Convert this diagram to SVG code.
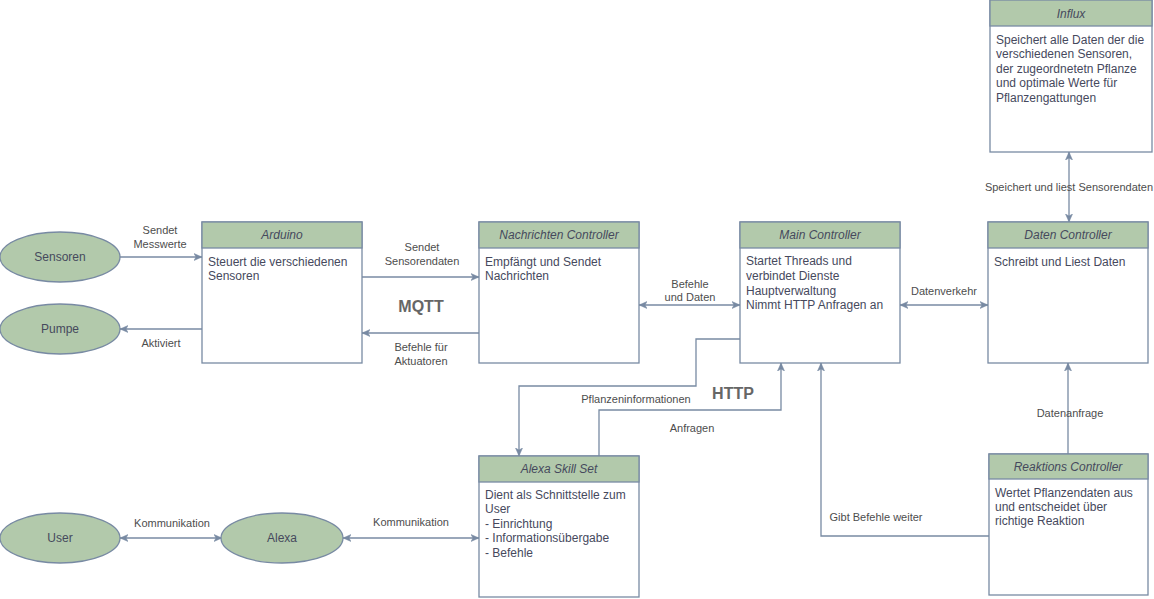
<svg xmlns="http://www.w3.org/2000/svg" width="1154" height="599" viewBox="0 0 1154 599">
<style>
.box{fill:#ffffff;stroke:#788AA3;stroke-width:1.3}
.hdr{fill:#B2C9AB;stroke:#788AA3;stroke-width:1.3}
.ell{fill:#B2C9AB;stroke:#788AA3;stroke-width:1.3}
.ttl{font-family:"Liberation Sans",Arial,sans-serif;font-size:12px;font-style:italic;fill:#46495D;text-anchor:middle}
.txt{font-family:"Liberation Sans",Arial,sans-serif;font-size:12px;fill:#46495D}
.etxt{font-family:"Liberation Sans",Arial,sans-serif;font-size:12px;fill:#46495D;text-anchor:middle}
.lbl{font-family:"Liberation Sans",Arial,sans-serif;font-size:11px;fill:#4D4D4D;text-anchor:middle}
.big{font-family:"Liberation Sans",Arial,sans-serif;font-size:16px;font-weight:bold;fill:#666666;text-anchor:middle}
.edge{fill:none;stroke:#788AA3;stroke-width:1.3}
</style>
<defs>
<marker id="arr" markerUnits="userSpaceOnUse" markerWidth="10" markerHeight="10" refX="8" refY="3.5" orient="auto-start-reverse" viewBox="0 0 10 7">
<path d="M0,0 L8,3.5 L0,7 L2,3.5 Z" fill="#788AA3" stroke="#788AA3" stroke-width="0.5"/>
</marker>
</defs>

<g id="connectors">
<path class="edge" d="M120,257 L202,257" marker-end="url(#arr)"/>
<path class="edge" d="M202,329 L120,329" marker-end="url(#arr)"/>
<path class="edge" d="M362,277 L479,277" marker-end="url(#arr)"/>
<path class="edge" d="M479,333 L362,333" marker-end="url(#arr)"/>
<path class="edge" d="M639,305 L740,305" marker-start="url(#arr)" marker-end="url(#arr)"/>
<path class="edge" d="M900,305 L988,305" marker-start="url(#arr)" marker-end="url(#arr)"/>
<path class="edge" d="M1069,152 L1069,222" marker-start="url(#arr)" marker-end="url(#arr)"/>
<path class="edge" d="M740,339 L696,339 L696,386 L519,386 L519,456" marker-end="url(#arr)"/>
<path class="edge" d="M599,456 L599,410 L781,410 L781,363" marker-end="url(#arr)"/>
<path class="edge" d="M1068,454 L1068,363" marker-end="url(#arr)"/>
<path class="edge" d="M989,536 L821,536 L821,363" marker-end="url(#arr)"/>
<path class="edge" d="M120,538 L222,538" marker-start="url(#arr)" marker-end="url(#arr)"/>
<path class="edge" d="M343,538 L479,538" marker-start="url(#arr)" marker-end="url(#arr)"/>

<text class="lbl" x="160" y="234">Sendet</text>
<text class="lbl" x="160" y="248">Messwerte</text>
<text class="lbl" x="161" y="347">Aktiviert</text>
<text class="lbl" x="422" y="251">Sendet</text>
<text class="lbl" x="422" y="265">Sensorendaten</text>
<text class="big" x="421" y="312">MQTT</text>
<text class="lbl" x="421" y="351">Befehle für</text>
<text class="lbl" x="421" y="365">Aktuatoren</text>
<text class="lbl" x="690" y="288">Befehle</text>
<text class="lbl" x="690" y="301">und Daten</text>
<text class="lbl" x="944" y="295">Datenverkehr</text>
<text class="lbl" x="1069" y="191">Speichert und liest Sensorendaten</text>
<text class="lbl" x="636" y="403">Pflanzeninformationen</text>
<text class="big" x="733" y="399">HTTP</text>
<text class="lbl" x="692" y="432">Anfragen</text>
<text class="lbl" x="1070" y="417">Datenanfrage</text>
<text class="lbl" x="876" y="521">Gibt Befehle weiter</text>
<text class="lbl" x="172" y="527">Kommunikation</text>
<text class="lbl" x="411" y="526">Kommunikation</text>
</g>

<g id="sensoren">
<ellipse class="ell" cx="60" cy="257" rx="60" ry="25"/>
<text class="etxt" x="60" y="261">Sensoren</text>
</g>
<g id="pumpe">
<ellipse class="ell" cx="60" cy="329" rx="60" ry="25"/>
<text class="etxt" x="60" y="333">Pumpe</text>
</g>
<g id="user">
<ellipse class="ell" cx="60" cy="538" rx="60" ry="25"/>
<text class="etxt" x="60" y="542">User</text>
</g>
<g id="alexa">
<ellipse class="ell" cx="282" cy="538" rx="61" ry="25"/>
<text class="etxt" x="282" y="542">Alexa</text>
</g>

<g id="arduino">
<rect class="box" x="202" y="222" width="160" height="141"/>
<rect class="hdr" x="202" y="222" width="160" height="26"/>
<text class="ttl" x="282" y="239">Arduino</text>
<text class="txt" x="208" y="266">Steuert die verschiedenen</text>
<text class="txt" x="208" y="280">Sensoren</text>
</g>

<g id="nachrichten">
<rect class="box" x="479" y="222" width="160" height="141"/>
<rect class="hdr" x="479" y="222" width="160" height="26"/>
<text class="ttl" x="559" y="239">Nachrichten Controller</text>
<text class="txt" x="485" y="266">Empfängt und Sendet</text>
<text class="txt" x="485" y="280">Nachrichten</text>
</g>

<g id="main">
<rect class="box" x="740" y="222" width="160" height="141"/>
<rect class="hdr" x="740" y="222" width="160" height="26"/>
<text class="ttl" x="820" y="239">Main Controller</text>
<text class="txt" x="746" y="265">Startet Threads und</text>
<text class="txt" x="746" y="280">verbindet Dienste</text>
<text class="txt" x="746" y="295">Hauptverwaltung</text>
<text class="txt" x="746" y="309">Nimmt HTTP Anfragen an</text>
</g>

<g id="daten">
<rect class="box" x="988" y="222" width="160" height="141"/>
<rect class="hdr" x="988" y="222" width="160" height="26"/>
<text class="ttl" x="1068" y="239">Daten Controller</text>
<text class="txt" x="994" y="266">Schreibt und Liest Daten</text>
</g>

<g id="influx">
<rect class="box" x="990" y="0" width="162" height="152"/>
<rect class="hdr" x="990" y="0" width="162" height="26"/>
<text class="ttl" x="1071" y="18">Influx</text>
<text class="txt" x="996" y="44">Speichert alle Daten der die</text>
<text class="txt" x="996" y="58">verschiedenen Sensoren,</text>
<text class="txt" x="996" y="73">der zugeordnetetn Pflanze</text>
<text class="txt" x="996" y="87">und optimale Werte für</text>
<text class="txt" x="996" y="102">Pflanzengattungen</text>
</g>

<g id="alexaskill">
<rect class="box" x="479" y="456" width="160" height="141"/>
<rect class="hdr" x="479" y="456" width="160" height="26"/>
<text class="ttl" x="559" y="473">Alexa Skill Set</text>
<text class="txt" x="485" y="499">Dient als Schnittstelle zum</text>
<text class="txt" x="485" y="513">User</text>
<text class="txt" x="485" y="528">- Einrichtung</text>
<text class="txt" x="485" y="542">- Informationsübergabe</text>
<text class="txt" x="485" y="557">- Befehle</text>
</g>

<g id="reaktions">
<rect class="box" x="989" y="454" width="159" height="141"/>
<rect class="hdr" x="989" y="454" width="159" height="25"/>
<text class="ttl" x="1068" y="471">Reaktions Controller</text>
<text class="txt" x="995" y="497">Wertet Pflanzendaten aus</text>
<text class="txt" x="995" y="511">und entscheidet über</text>
<text class="txt" x="995" y="525">richtige Reaktion</text>
</g>
</svg>
